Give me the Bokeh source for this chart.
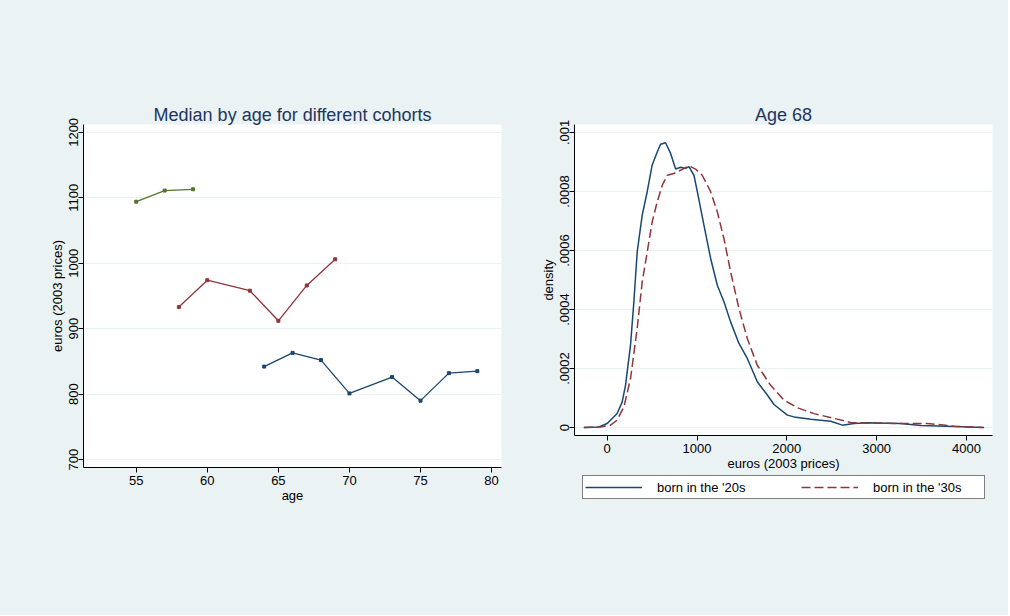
from bokeh.plotting import figure
from bokeh.layouts import row, column
from bokeh.models import FixedTicker, CustomJSTickFormatter, Legend, LegendItem, Range1d
from bokeh.embed import file_html
from bokeh.resources import INLINE

# ---- data: left panel (median by age for different cohorts)
age_40s = [55, 57, 59]
med_40s = [1094, 1111, 1113]
age_30s = [58, 60, 63, 65, 67, 69]
med_30s = [933, 974, 958, 912, 966, 1006]
age_20s = [64, 66, 68, 70, 73, 75, 77, 79]
med_20s = [842, 863, 852, 801, 826, 790, 832, 835]

# ---- data: right panel (density at age 68)
x_20s = [-260, -93, 0, 111, 167, 204, 260, 297, 334, 390, 446, 501, 557, 594, 650, 706, 762,
         817, 873, 910, 966, 1003, 1077, 1152, 1226, 1300, 1374, 1467, 1560, 1671, 1783, 1857,
         2006, 2080, 2266, 2488, 2618, 2748, 2897, 3268, 3491, 3863, 4197]
d_20s = [0, 0.000002, 0.0000136, 0.0000475, 0.000087, 0.000143, 0.00028, 0.000426, 0.000595,
         0.00072, 0.0008, 0.00089, 0.000934, 0.00096, 0.000965, 0.000929, 0.000876, 0.000882,
         0.000878, 0.000884, 0.000855, 0.0008, 0.000686, 0.000573, 0.000482, 0.000426, 0.000358,
         0.000285, 0.000234, 0.000155, 0.00011, 0.000078, 0.000042, 0.000036, 0.000028,
         0.000021, 0.000008, 0.0000136, 0.0000158, 0.0000136, 0.0000068, 0.0000034, 0]
x_30s = [-260, -74, 37, 111, 186, 260, 334, 390, 446, 501, 557, 613, 669, 743, 817, 910, 984,
         1058, 1151, 1226, 1300, 1374, 1467, 1560, 1671, 1820, 1968, 2117, 2303, 2526, 2711,
         2934, 3231, 3565, 3863, 4178]
d_30s = [0, 0.000002, 0.000008, 0.000025, 0.00007, 0.000166, 0.000336, 0.000494, 0.000595,
         0.000697, 0.000765, 0.000821, 0.000855, 0.000861, 0.000872, 0.000887, 0.000876,
         0.000855, 0.0008, 0.000731, 0.00064, 0.000528, 0.000403, 0.000302, 0.000211, 0.000143,
         0.000093, 0.000067, 0.000047, 0.000031, 0.000017, 0.0000147, 0.0000136, 0.0000136,
         0.0000045, 0]

series_labels = ["born in the '20s", "born in the '30s"]

left_xticks = [55, 60, 65, 70, 75, 80]
left_yticks = [700, 800, 900, 1000, 1100, 1200]
right_xticks = [0, 1000, 2000, 3000, 4000]
right_yticks = [0, 0.0002, 0.0004, 0.0006, 0.0008, 0.001]

BG = "#EAF2F3"
NAVY = "#1A476F"
MAROON = "#90353B"
GREEN = "#55752F"
FONT = "Liberation Sans"
TITLE_COLOR = "#1E3560"
DASH = "9 4"


def style(p):
    p.background_fill_color = "white"
    p.border_fill_color = BG
    p.outline_line_color = None
    p.xgrid.visible = False
    p.ygrid.grid_line_color = BG
    p.ygrid.grid_line_width = 1
    p.title.text_font = FONT
    p.title.text_font_size = "18px"
    p.title.text_font_style = "normal"
    p.title.text_color = TITLE_COLOR
    p.title.align = "center"
    p.title.standoff = 0
    p.title.text_line_height = 1.0
    for ax in (p.xaxis[0], p.yaxis[0]):
        ax.axis_line_color = "black"
        ax.major_tick_line_color = "black"
        ax.minor_tick_line_color = None
        ax.major_tick_out = 5
        ax.major_tick_in = 0
        ax.major_label_text_font = FONT
        ax.major_label_text_font_size = "13px"
        ax.major_label_text_color = "black"
        ax.axis_label_text_font = FONT
        ax.axis_label_text_font_size = "13px"
        ax.axis_label_text_font_style = "normal"
        ax.axis_label_text_color = "black"
    p.yaxis[0].major_label_orientation = "vertical"
    p.yaxis[0].major_label_standoff = 0
    p.yaxis[0].axis_label_standoff = 2
    p.xaxis[0].axis_label_standoff = 0
    p.xaxis[0].major_label_standoff = 3


# ---- left figure
p1 = figure(frame_width=418, frame_height=343, output_backend="svg", toolbar_location=None,
            title="Median by age for different cohorts",
            x_range=Range1d(51.29, 80.7), y_range=Range1d(687.8, 1212),
            min_border_left=83, min_border_right=9, min_border_top=124, min_border_bottom=147,
            x_axis_label="age", y_axis_label="euros (2003 prices)")
style(p1)
p1.xaxis[0].ticker = FixedTicker(ticks=left_xticks)
p1.yaxis[0].ticker = FixedTicker(ticks=left_yticks)
p1.ygrid[0].ticker = FixedTicker(ticks=left_yticks)

for xs, ys, c in ((age_40s, med_40s, GREEN), (age_30s, med_30s, MAROON), (age_20s, med_20s, NAVY)):
    p1.line(xs, ys, line_color=c, line_width=1.3)
    p1.scatter(xs, ys, marker="square", size=3, fill_color=c, line_color=c)

# ---- right figure
p2 = figure(frame_width=418, frame_height=311, output_backend="svg", toolbar_location=None,
            title="Age 68",
            x_range=Range1d(-364, 4290), y_range=Range1d(-0.0000271, 0.001027),
            min_border_left=64, min_border_right=16, min_border_top=124, min_border_bottom=37,
            x_axis_label="euros (2003 prices)", y_axis_label="density")
style(p2)
p2.xaxis[0].ticker = FixedTicker(ticks=right_xticks)
p2.yaxis[0].ticker = FixedTicker(ticks=right_yticks)
p2.ygrid[0].ticker = FixedTicker(ticks=right_yticks)
p2.yaxis[0].formatter = CustomJSTickFormatter(
    code="if (Math.abs(tick) < 1e-12) { return '0'; } "
         "return tick.toFixed(4).replace(/^0/, '').replace(/0+$/, '');")

p2.line(x_20s, d_20s, line_color=NAVY, line_width=1.5)
p2.line(x_30s, d_30s, line_color=MAROON, line_width=1.5, line_dash=DASH)

# ---- legend strip under the right panel (series drawn out of view; only the key shows)
p3 = figure(frame_width=498, frame_height=142, output_backend="svg", toolbar_location=None,
            x_range=Range1d(-364, 4290), y_range=Range1d(1, 2),
            min_border=0, x_axis_type=None, y_axis_type=None)
p3.background_fill_color = BG
p3.border_fill_color = BG
p3.outline_line_color = None
p3.grid.visible = False
l20 = p3.line(x_20s, d_20s, line_color=NAVY, line_width=1.5)
l30 = p3.line(x_30s, d_30s, line_color=MAROON, line_width=1.5, line_dash=DASH)

legend = Legend(items=[LegendItem(label=series_labels[0], renderers=[l20]),
                       LegendItem(label=series_labels[1], renderers=[l30])],
                orientation="horizontal", location=(72, 116),
                glyph_width=57, glyph_height=18, label_height=18, label_width=109,
                label_standoff=15, spacing=35, padding=2, margin=0,
                border_line_color="black", border_line_width=1,
                background_fill_color="white", background_fill_alpha=1,
                label_text_font=FONT, label_text_font_size="13px", label_text_color="black")
p3.add_layout(legend, "center")

layout = row(p1, column(p2, p3, spacing=0), spacing=0, styles={"background-color": BG})
open("out.html", "w").write(file_html(layout, INLINE))
